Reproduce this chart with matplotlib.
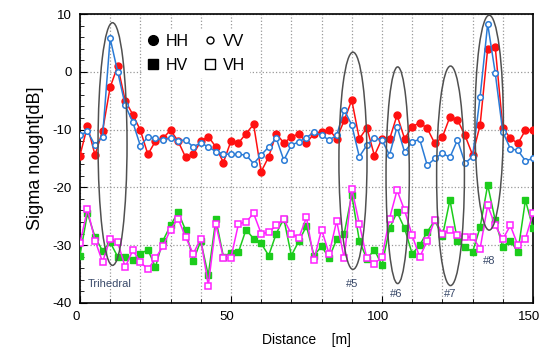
import matplotlib.pyplot as plt
import matplotlib.transforms as mtransforms
from matplotlib.lines import Line2D
from matplotlib.patches import Ellipse
from matplotlib.ticker import MultipleLocator

plt.rcParams['axes.unicode_minus'] = False
plt.rcParams['font.family'] = ['Liberation Sans', 'DejaVu Sans']

# Distance along the track [m]
distance = [0, 2.5, 5, 7.5, 10, 12.5, 15, 17.5, 20, 22.5, 25, 27.5, 30, 32.5, 35,
            37.5, 40, 42.5, 45, 47.5, 50, 52.5, 55, 57.5, 60, 62.5, 65, 67.5, 70,
            72.5, 75, 77.5, 80, 82.5, 85, 87.5, 90, 92.5, 95, 97.5, 100, 102.5, 105,
            107.5, 110, 112.5, 115, 117.5, 120, 122.5, 125, 127.5, 130, 132.5, 135,
            137.5, 140, 142.5, 145, 147.5, 150]

hh = [-14.5, -9.4, -14.4, -10.2, -2.7, 1.0, -5.0, -7.4, -10.1, -14.3, -12.0, -11.5,
      -10.1, -12.0, -14.8, -14.3, -12.0, -11.2, -13.0, -15.7, -12.0, -12.3, -10.7,
      -9.1, -17.3, -14.7, -10.7, -12.3, -11.3, -10.7, -12.3, -10.7, -10.4, -10.0,
      -11.6, -8.4, -4.9, -11.6, -9.7, -14.5, -11.6, -11.7, -7.5, -11.6, -9.5, -8.8,
      -9.8, -12.4, -11.3, -7.8, -8.3, -11.0, -14.4, -9.2, 4.0, 4.3, -9.7, -11.5,
      -12.4, -10.1, -10.0]

vv = [-11.0, -10.3, -12.7, -11.2, 5.8, 0.0, -5.8, -8.7, -12.8, -11.3, -11.5, -11.8,
      -11.4, -11.9, -11.8, -13.0, -12.3, -13.0, -13.8, -14.2, -14.3, -14.3, -14.4,
      -15.9, -14.4, -13.0, -11.5, -15.3, -12.7, -12.1, -11.4, -10.4, -11.0, -11.8,
      -11.0, -6.6, -9.2, -14.7, -12.7, -11.4, -11.8, -14.4, -9.5, -13.9, -12.1,
      -11.7, -16.2, -15.0, -14.1, -14.8, -11.8, -15.8, -14.7, -4.3, 8.3, -0.2,
      -10.4, -13.3, -13.6, -15.4, -15.0]

hv = [-31.8, -24.5, -28.6, -31.0, -29.5, -32.0, -32.1, -32.5, -31.5, -30.8, -33.8,
      -29.2, -26.6, -24.3, -27.4, -32.7, -29.3, -35.2, -25.5, -32.0, -31.3, -31.2,
      -27.3, -28.9, -29.7, -31.8, -28.0, -25.4, -31.8, -29.3, -26.7, -31.8, -30.2,
      -32.2, -29.0, -28.0, -21.3, -29.2, -32.4, -30.8, -33.5, -27.1, -24.3, -27.1,
      -31.5, -30.0, -27.7, -25.7, -28.5, -22.2, -29.2, -30.3, -31.2, -26.9, -19.6,
      -25.7, -30.3, -29.2, -31.2, -22.2, -27.1]

vh = [-29.7, -23.8, -29.2, -32.9, -28.9, -29.5, -33.8, -30.9, -32.9, -34.2, -32.3,
      -30.2, -27.3, -25.4, -28.6, -31.5, -28.9, -37.0, -26.4, -32.2, -32.2, -26.3,
      -26.0, -24.5, -28.0, -27.8, -26.6, -25.5, -28.1, -28.7, -25.2, -32.5, -27.3,
      -31.5, -25.8, -32.3, -20.2, -26.3, -32.3, -33.2, -32.1, -25.4, -20.5, -24.0,
      -28.3, -32.1, -29.2, -25.6, -28.0, -27.4, -28.3, -28.6, -28.6, -30.6, -23.1,
      -26.6, -29.0, -26.6, -30.0, -28.9, -24.5]

# target ellipses: label, centre x, centre y, width, height, label x, label y
targets = [
    ("Trihedral", 10.8, -12.5, 9.6, 42.0, 2.5, -37.3),
    ("#5", 90.4, -15.4, 9.3, 37.6, 88.0, -37.3),
    ("#6", 105.2, -17.9, 7.7, 37.5, 102.8, -39.0),
    ("#7", 122.7, -18.0, 9.2, 38.0, 120.6, -39.0),
    ("#8", 135.5, -8.8, 9.4, 37.2, 133.6, -33.3),
]

fig = plt.figure(figsize=(5.4, 3.51), dpi=100)
ax = fig.add_axes([0.148, 0.137, 0.839, 0.823])

ax.plot(distance, hh, '-o', color='#ff1010', lw=1.1, ms=5, mec='#ff1010', zorder=3)
ax.plot(distance, vv, '-o', color='#2a7bd6', lw=1.1, ms=4, mfc='white', mew=1.1, zorder=4)
ax.plot(distance, hv, '-s', color='#1ccc1c', lw=1.1, ms=4.5, zorder=3)
ax.plot(distance, vh, '-s', color='#ff20ff', lw=1.1, ms=4.5, mfc='white', mew=1.1, zorder=4)

for name, cx, cy, w, h, tx, ty in targets:
    ax.add_patch(Ellipse((cx, cy), w, h, fill=False, ec='#505050', lw=1.1, zorder=5))
    ax.text(tx, ty, name, fontsize=8, color='#3a4a6a', zorder=6)

ax.set_xlim(0, 150)
ax.set_ylim(-40, 10)
ax.xaxis.set_major_locator(MultipleLocator(50))
ax.xaxis.set_minor_locator(MultipleLocator(10))
ax.yaxis.set_major_locator(MultipleLocator(10))
ax.yaxis.set_minor_locator(MultipleLocator(2))
ax.tick_params(which='both', direction='in', labelsize=9.5, top=False, right=False)
ax.tick_params(which='major', length=5, pad=6)
ax.tick_params(which='minor', length=3)
ax.grid(True, which='both', axis='x', linestyle=':', color='#999999', lw=0.9)
ax.grid(True, which='major', axis='y', linestyle=':', color='#999999', lw=0.9)
for s in ax.spines.values():
    s.set_linewidth(1.2)

# x tick labels sit a few pixels left of their ticks in the original
shift = mtransforms.ScaledTranslation(-4 / 100, 0, fig.dpi_scale_trans)
for lab in ax.get_xticklabels():
    lab.set_transform(lab.get_transform() + shift)

ax.set_xlabel("Distance    [m]", fontsize=10, labelpad=7)
ax.set_ylabel("Sigma nought[dB]", fontsize=13, labelpad=6)

handles = [
    Line2D([], [], ls='none', marker='o', color='black', ms=7),
    Line2D([], [], ls='none', marker='s', color='black', ms=6.5),
    Line2D([], [], ls='none', marker='o', color='black', mfc='white', ms=5),
    Line2D([], [], ls='none', marker='s', color='black', mfc='white', ms=6.5),
]
leg = ax.legend(handles, ['HH', 'HV', 'VV', 'VH'], ncol=2, loc='upper left',
                bbox_to_anchor=(0.12, 0.975), fontsize=11.5, frameon=True,
                framealpha=1, edgecolor='none', facecolor='white',
                handlelength=0.8, handletextpad=0.4, columnspacing=0.9,
                labelspacing=0.55, borderpad=0.3)
leg.set_zorder(10)

fig.savefig('out.png', dpi=100)
